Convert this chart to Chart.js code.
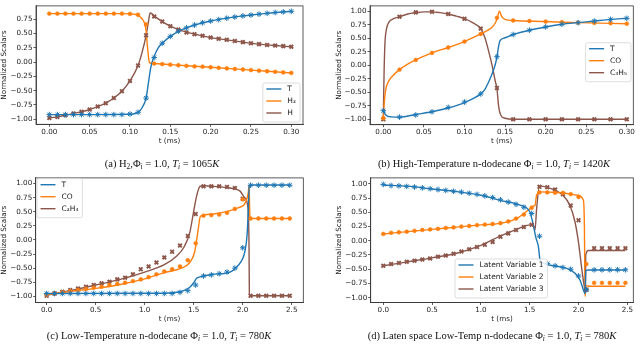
<!DOCTYPE html>
<html>
<head>
<meta charset="utf-8">
<script src="https://cdn.jsdelivr.net/npm/chart.js@4.4.0/dist/chart.umd.min.js"></script>
<style>
  html, body { margin: 0; padding: 0; background: #fff; }
  #wrap { position: relative; width: 640px; height: 347px; overflow: hidden; }
  canvas { position: absolute; }
  .cap { position: absolute; width: 320px; text-align: center; white-space: nowrap;
         font-family: "Liberation Serif", "Times New Roman", serif; font-size: 10.5px; line-height: 12px; color: #111; }
  .cap sub { font-size: 70%; line-height: 0; vertical-align: -0.3em; }
</style>
</head>
<body>
<div id="wrap">
  <canvas id="chartA" width="320" height="160" style="left:0;top:0"></canvas>
  <canvas id="chartB" width="320" height="160" style="left:320px;top:0"></canvas>
  <canvas id="chartC" width="320" height="160" style="left:0;top:172px"></canvas>
  <canvas id="chartD" width="320" height="160" style="left:320px;top:172px"></canvas>
  <div class="cap" style="left:2px;top:157.5px">(a) H<sub>2</sub>,Φ<sub><i>i</i></sub> = 1.0, <i>T<sub>i</sub></i> = 1065<i>K</i></div>
  <div class="cap" style="left:334px;top:157.5px">(b) High-Temperature n-dodecane Φ<sub><i>i</i></sub> = 1.0, <i>T<sub>i</sub></i> = 1420<i>K</i></div>
  <div class="cap" style="left:-1px;top:329.5px">(c) Low-Temperature n-dodecane Φ<sub><i>i</i></sub> = 1.0, <i>T<sub>i</sub></i> = 780<i>K</i></div>
  <div class="cap" style="left:332px;top:329.5px">(d) Laten space Low-Temp n-dodecane Φ<sub><i>i</i></sub> = 1.0, <i>T<sub>i</sub></i> = 780<i>K</i></div>
</div>

<script>
// ---------- tick labels ----------
const ticksA_x = [0.00, 0.05, 0.10, 0.15, 0.20, 0.25, 0.30];
const ticksA_y = [-1.00, -0.75, -0.50, -0.25, 0.00, 0.25, 0.50, 0.75];
const ticksB_x = [0.00, 0.05, 0.10, 0.15, 0.20, 0.25, 0.30];
const ticksB_y = [-1.00, -0.75, -0.50, -0.25, 0.00, 0.25, 0.50, 0.75, 1.00];
const ticksCD_x = [0.0, 0.5, 1.0, 1.5, 2.0, 2.5];
const ticksCD_y = [-1.00, -0.75, -0.50, -0.25, 0.00, 0.25, 0.50, 0.75, 1.00];

// ---------- (a) H2, 1065K ----------
const aLineT_t  = [0, 0.05, 0.10, 0.105, 0.11, 0.115, 0.12, 0.123, 0.126, 0.13, 0.135, 0.14, 0.15, 0.16, 0.17, 0.18, 0.20, 0.22, 0.24, 0.26, 0.28, 0.30];
const aLineT_v  = [-0.92, -0.92, -0.915, -0.905, -0.88, -0.80, -0.63, -0.35, -0.08, 0.10, 0.25, 0.33, 0.45, 0.54, 0.60, 0.65, 0.72, 0.77, 0.81, 0.84, 0.87, 0.89];
const aLineH2_t = [0, 0.09, 0.10, 0.105, 0.11, 0.115, 0.118, 0.12, 0.122, 0.124, 0.126, 0.13, 0.15, 0.20, 0.25, 0.30];
const aLineH2_v = [0.85, 0.85, 0.845, 0.84, 0.82, 0.76, 0.68, 0.55, 0.22, 0.0, -0.02, -0.025, -0.045, -0.09, -0.14, -0.19];
const aLineH_t  = [0, 0.01, 0.02, 0.03, 0.04, 0.05, 0.06, 0.07, 0.08, 0.09, 0.10, 0.11, 0.115, 0.12, 0.123, 0.125, 0.127, 0.13, 0.14, 0.15, 0.16, 0.18, 0.20, 0.22, 0.24, 0.26, 0.28, 0.30];
const aLineH_v  = [-0.98, -0.96, -0.93, -0.90, -0.87, -0.83, -0.78, -0.72, -0.63, -0.51, -0.33, -0.06, 0.17, 0.47, 0.72, 0.86, 0.85, 0.81, 0.71, 0.63, 0.57, 0.49, 0.43, 0.39, 0.35, 0.315, 0.29, 0.27];

const aMark_t  = [0.00, 0.01, 0.02, 0.03, 0.04, 0.05, 0.06, 0.07, 0.08, 0.09, 0.10, 0.11, 0.12, 0.13, 0.14, 0.15,
                  0.16, 0.17, 0.18, 0.19, 0.20, 0.21, 0.22, 0.23, 0.24, 0.25, 0.26, 0.27, 0.28, 0.29, 0.30];
const aMarkT   = [-0.92, -0.92, -0.92, -0.92, -0.92, -0.92, -0.92, -0.92, -0.92, -0.92, -0.91, -0.88, -0.63, 0.08, 0.33, 0.45,
                  0.54, 0.60, 0.65, 0.69, 0.72, 0.745, 0.77, 0.79, 0.81, 0.825, 0.84, 0.855, 0.87, 0.88, 0.89];
const aMarkH2  = [0.85, 0.85, 0.85, 0.85, 0.85, 0.85, 0.85, 0.85, 0.85, 0.85, 0.845, 0.83, 0.66, -0.025, -0.035, -0.045,
                  -0.055, -0.065, -0.075, -0.08, -0.09, -0.10, -0.11, -0.12, -0.13, -0.14, -0.15, -0.16, -0.17, -0.18, -0.19];
const aMarkH   = [-0.98, -0.96, -0.93, -0.90, -0.87, -0.83, -0.78, -0.72, -0.63, -0.51, -0.33, -0.06, 0.47, 0.80, 0.71, 0.63,
                  0.57, 0.52, 0.49, 0.46, 0.43, 0.41, 0.39, 0.37, 0.35, 0.33, 0.315, 0.30, 0.29, 0.28, 0.27];

// ---------- (b) high-temperature n-dodecane ----------
const bLineT_t  = [0, 0.002, 0.005, 0.01, 0.02, 0.04, 0.06, 0.08, 0.10, 0.12, 0.125, 0.13, 0.135, 0.138, 0.14, 0.142, 0.144, 0.15, 0.16, 0.18, 0.20, 0.22, 0.24, 0.26, 0.28, 0.30];
const bLineT_v  = [-0.82, -0.90, -0.94, -0.955, -0.96, -0.91, -0.86, -0.79, -0.69, -0.53, -0.45, -0.30, -0.12, 0.02, 0.15, 0.35, 0.46, 0.51, 0.57, 0.65, 0.71, 0.76, 0.79, 0.82, 0.85, 0.87];
const bLineCO_t = [0, 0.001, 0.003, 0.006, 0.01, 0.02, 0.03, 0.04, 0.06, 0.08, 0.10, 0.12, 0.13, 0.135, 0.14, 0.143, 0.146, 0.15, 0.16, 0.20, 0.24, 0.30];
const bLineCO_v = [-0.98, -0.72, -0.45, -0.31, -0.22, -0.08, 0.02, 0.10, 0.23, 0.33, 0.44, 0.58, 0.66, 0.72, 0.85, 1.0, 0.90, 0.85, 0.83, 0.81, 0.79, 0.77];
const bLineC3_t = [0, 0.0005, 0.001, 0.002, 0.004, 0.007, 0.012, 0.02, 0.03, 0.04, 0.05, 0.06, 0.07, 0.08, 0.09, 0.10, 0.11, 0.12, 0.125, 0.13, 0.134, 0.138, 0.14, 0.142, 0.145, 0.15, 0.16, 0.30];
const bLineC3_v = [-1.0, -0.5, -0.1, 0.4, 0.68, 0.80, 0.86, 0.90, 0.95, 0.975, 0.99, 0.99, 0.975, 0.95, 0.91, 0.865, 0.79, 0.68, 0.52, 0.25, 0.0, -0.3, -0.43, -0.75, -0.93, -0.98, -1.0, -1.0];

const bMark_t  = [0.00, 0.02, 0.04, 0.06, 0.08, 0.10, 0.12, 0.14, 0.16, 0.18, 0.20, 0.22, 0.24, 0.26, 0.28, 0.30];
const bMarkT   = [-0.84, -0.96, -0.92, -0.86, -0.78, -0.68, -0.53, 0.16, 0.57, 0.65, 0.71, 0.76, 0.79, 0.82, 0.85, 0.87];
const bMarkCO  = [-0.98, -0.08, 0.10, 0.23, 0.33, 0.44, 0.58, 0.88, 0.83, 0.82, 0.81, 0.80, 0.79, 0.785, 0.78, 0.77];
const bMarkC3  = [-1.0, 0.90, 0.98, 0.99, 0.95, 0.86, 0.68, -0.42, -1.0, -1.0, -1.0, -1.0, -1.0, -1.0, -1.0, -1.0];

// ---------- (c) low-temperature n-dodecane ----------
const cLineT_t  = [0, 1.2, 1.36, 1.41, 1.46, 1.50, 1.53, 1.564, 1.60, 1.70, 1.87, 1.955, 2.0, 2.024, 2.045, 2.057, 2.067, 2.08, 2.48];
const cLineT_v  = [-0.95, -0.945, -0.92, -0.89, -0.84, -0.76, -0.68, -0.655, -0.64, -0.61, -0.57, -0.45, -0.33, -0.19, 0.10, 0.55, 0.97, 0.975, 0.975];
const cLineCO_t = [0, 0.25, 0.5, 0.75, 1.0, 1.2, 1.36, 1.46, 1.51, 1.547, 1.564, 1.58, 1.70, 1.87, 1.97, 2.02, 2.057, 2.064, 2.074, 2.09, 2.48];
const cLineCO_v = [-0.97, -0.91, -0.86, -0.79, -0.69, -0.58, -0.51, -0.40, -0.21, 0.20, 0.40, 0.43, 0.46, 0.52, 0.58, 0.64, 0.84, 0.96, 0.40, 0.38, 0.38];
const cLineC2_t = [0, 0.25, 0.5, 0.75, 1.0, 1.2, 1.33, 1.4, 1.46, 1.497, 1.53, 1.564, 1.60, 1.70, 1.87, 1.97, 2.02, 2.05, 2.064, 2.068, 2.08, 2.48];
const cLineC2_v = [-0.98, -0.895, -0.80, -0.70, -0.57, -0.44, -0.28, -0.13, 0.13, 0.48, 0.78, 0.95, 0.96, 0.95, 0.92, 0.87, 0.75, 0.61, -0.04, -0.97, -0.99, -0.99];

const cdMark_t = [0.00, 0.08, 0.16, 0.24, 0.32, 0.40, 0.48, 0.56, 0.64, 0.72, 0.80, 0.88, 0.96, 1.04, 1.12, 1.20,
                  1.28, 1.36, 1.44, 1.52, 1.60, 1.68, 1.76, 1.84, 1.92, 2.00, 2.08, 2.16, 2.24, 2.32, 2.40, 2.48];
const cMarkT   = [-0.95, -0.95, -0.95, -0.95, -0.95, -0.95, -0.95, -0.95, -0.95, -0.95, -0.95, -0.95, -0.95, -0.95, -0.95, -0.95,
                  -0.95, -0.93, -0.90, -0.80, -0.64, -0.62, -0.60, -0.57, -0.50, -0.14, 0.97, 0.97, 0.97, 0.97, 0.97, 0.97];
const cMarkCO  = [-0.97, -0.95, -0.93, -0.91, -0.89, -0.87, -0.85, -0.83, -0.80, -0.78, -0.76, -0.73, -0.70, -0.66, -0.61, -0.56,
                  -0.52, -0.47, -0.36, -0.06, 0.43, 0.44, 0.45, 0.48, 0.55, 0.72, 0.38, 0.38, 0.38, 0.38, 0.38, 0.38];
const cMarkC2  = [-0.99, -0.95, -0.92, -0.89, -0.86, -0.83, -0.80, -0.77, -0.74, -0.70, -0.67, -0.61, -0.52, -0.47, -0.40, -0.31,
                  -0.21, -0.10, 0.07, 0.46, 0.95, 0.95, 0.95, 0.94, 0.92, 0.73, -0.99, -0.99, -0.99, -0.99, -0.99, -0.99];

// ---------- (d) latent space ----------
const dLine1_t = [0, 0.25, 0.5, 0.75, 1.0, 1.2, 1.4, 1.5, 1.537, 1.561, 1.589, 1.606, 1.65, 1.71, 1.88, 1.964, 2.015, 2.05, 2.067, 2.075, 2.1, 2.48];
const dLine1_v = [0.98, 0.96, 0.91, 0.865, 0.80, 0.71, 0.626, 0.51, 0.275, 0.07, -0.105, -0.34, -0.40, -0.43, -0.485, -0.57, -0.69, -0.865, -0.93, -0.52, -0.515, -0.515];
const dLine2_t = [0, 0.25, 0.5, 0.75, 1.0, 1.196, 1.366, 1.486, 1.537, 1.554, 1.57, 1.606, 1.70, 1.85, 1.99, 2.05, 2.06, 2.067, 2.075, 2.1, 2.48];
const dLine2_v = [0.12, 0.16, 0.20, 0.24, 0.28, 0.305, 0.39, 0.54, 0.61, 0.62, 0.80, 0.86, 0.855, 0.84, 0.80, 0.71, 0.27, -0.98, -0.78, -0.80, -0.80];
const dLine3_t = [0, 0.25, 0.5, 0.75, 1.0, 1.196, 1.366, 1.503, 1.537, 1.554, 1.571, 1.60, 1.71, 1.84, 1.91, 1.964, 1.999, 2.033, 2.057, 2.07, 2.074, 2.1, 2.48];
const dLine3_v = [-0.44, -0.37, -0.30, -0.22, -0.08, 0.08, 0.20, 0.28, 0.27, 0.19, 0.57, 0.965, 0.92, 0.80, 0.63, 0.33, -0.02, -0.49, -0.78, -0.89, -0.25, -0.17, -0.17];

const dMark1 = [0.99, 0.97, 0.965, 0.955, 0.945, 0.93, 0.915, 0.90, 0.885, 0.87, 0.855, 0.835, 0.815, 0.79, 0.76, 0.72,
                0.68, 0.64, 0.59, 0.48, 0.08, -0.40, -0.44, -0.47, -0.50, -0.62, -0.86, -0.51, -0.51, -0.51, -0.51, -0.51];
const dMark2 = [0.12, 0.14, 0.15, 0.16, 0.175, 0.19, 0.20, 0.21, 0.225, 0.235, 0.25, 0.26, 0.275, 0.285, 0.295, 0.31,
                0.34, 0.39, 0.46, 0.58, 0.85, 0.85, 0.845, 0.84, 0.82, 0.77, -0.41, -0.74, -0.74, -0.74, -0.74, -0.74];
const dMark3 = [-0.44, -0.41, -0.39, -0.37, -0.35, -0.33, -0.31, -0.28, -0.26, -0.23, -0.19, -0.15, -0.11, -0.07, -0.02, 0.07,
                0.13, 0.19, 0.24, 0.28, 0.95, 0.94, 0.90, 0.82, 0.62, 0.36, -0.86, -0.13, -0.13, -0.13, -0.13, -0.13];

// ---------- styling ----------
const BLUE = '#1f77b4', ORANGE = '#ff7f0e', BROWN = '#8c564b';
const INK = '#222';

Chart.defaults.font.family = "'DejaVu Sans', sans-serif";
Chart.defaults.font.size = 7.2;
Chart.defaults.color = INK;

const markStyle = {
  [BLUE]:   { pointStyle: 'star',     pointRadius: 2.8, pointBorderWidth: 1 },
  [ORANGE]: { pointStyle: 'circle',   pointRadius: 1.9, pointBorderWidth: 0.6 },
  [BROWN]:  { pointStyle: 'crossRot', pointRadius: 2.6, pointBorderWidth: 1.9 }
};

function pts(t, v) {
  return t.map((x, i) => ({ x: x, y: v[i] }));
}

function lineSet(label, t, v, color) {
  return {
    label: label, data: pts(t, v),
    borderColor: color, backgroundColor: color, borderWidth: 1.4,
    pointRadius: 0, cubicInterpolationMode: 'monotone', order: 1
  };
}

function markSet(t, v, color) {
  return Object.assign({
    data: pts(t, v), showLine: false,
    borderColor: color, backgroundColor: color, order: 0
  }, markStyle[color]);
}

function fmt(v, dec) {
  const s = Math.abs(v).toFixed(dec);
  return v < -1e-9 ? '\u2212' + s : s;
}

function axis(min, max, ticks, dec, title, dir, size) {
  return {
    type: 'linear', min: min, max: max,
    afterBuildTicks: s => { s.ticks = ticks.map(v => ({ value: v })); },
    afterFit: s => { if (dir === 'x') s.height = size; else s.width = size; },
    grid: { drawOnChartArea: false, drawTicks: true, tickLength: 2.5, color: '#333', tickWidth: 0.8 },
    border: { display: true, color: '#333', width: 0.8 },
    ticks: { autoSkip: false, maxRotation: 0, padding: 1, color: INK, callback: v => fmt(v, dec) },
    title: { display: true, text: title, color: INK, padding: dir === 'x' ? { top: 0, bottom: 2 } : { top: 0, bottom: 0 } }
  };
}

// frame round the plot + legend box inside it
const framePlugin = {
  id: 'legendBox',
  afterDraw(chart, args, opts) {
    const ctx = chart.ctx;
    const a = chart.chartArea;
    ctx.save();
    ctx.strokeStyle = '#333';
    ctx.lineWidth = 0.8;
    ctx.strokeRect(a.left, a.top, a.right - a.left, a.bottom - a.top);

    const items = chart.data.datasets.filter(d => d.label);
    ctx.font = "7.5px 'DejaVu Sans'";
    const textW = Math.max(...items.map(d => ctx.measureText(d.label).width));
    const w = 3.5 + 15 + 6 + textW + 4;
    const h = items.length * 12 + 3;
    const left = opts.align === 'right' ? opts.x - w : opts.x;
    const top = opts.y;

    ctx.fillStyle = 'rgba(255,255,255,0.85)';
    ctx.strokeStyle = '#d4d4d4';
    ctx.lineWidth = 0.8;
    ctx.beginPath();
    ctx.roundRect(left, top, w, h, 2);
    ctx.fill();
    ctx.stroke();

    ctx.textBaseline = 'middle';
    ctx.textAlign = 'left';
    items.forEach((d, i) => {
      const y = top + 6 + i * 12;
      ctx.strokeStyle = d.borderColor;
      ctx.lineWidth = 1.4;
      ctx.beginPath();
      ctx.moveTo(left + 3.5, y);
      ctx.lineTo(left + 18.5, y);
      ctx.stroke();
      ctx.fillStyle = INK;
      ctx.fillText(d.label, left + 24.5, y + 0.5);
    });
    ctx.restore();
  }
};

function drawPanel(id, p) {
  new Chart(document.getElementById(id), {
    type: 'line',
    data: { datasets: p.datasets },
    options: {
      responsive: false,
      animation: false,
      events: [],
      layout: { padding: p.pad },
      plugins: { legend: { display: false }, tooltip: { enabled: false }, legendBox: p.legend },
      scales: {
        x: axis(p.x[0], p.x[1], p.xTicks, p.xDec, 't (ms)', 'x', 23),
        y: axis(p.y[0], p.y[1], p.yTicks, 2, 'Normalized Scalars', 'y', p.yW)
      }
    },
    plugins: [framePlugin]
  });
}

drawPanel('chartA', {
  datasets: [
    lineSet('T', aLineT_t, aLineT_v, BLUE),
    lineSet('H\u2082', aLineH2_t, aLineH2_v, ORANGE),
    lineSet('H', aLineH_t, aLineH_v, BROWN),
    markSet(aMark_t, aMarkT, BLUE),
    markSet(aMark_t, aMarkH2, ORANGE),
    markSet(aMark_t, aMarkH, BROWN)
  ],
  x: [-0.0165, 0.3145], y: [-1.09, 0.985],
  xTicks: ticksA_x, yTicks: ticksA_y, xDec: 2, yW: 36,
  pad: { left: 0, right: 17, top: 1, bottom: 12.7 },
  legend: { x: 300, y: 83, align: 'right' }
});

drawPanel('chartB', {
  datasets: [
    lineSet('T', bLineT_t, bLineT_v, BLUE),
    lineSet('CO', bLineCO_t, bLineCO_v, ORANGE),
    lineSet('C\u2083H\u2085', bLineC3_t, bLineC3_v, BROWN),
    markSet(bMark_t, bMarkT, BLUE),
    markSet(bMark_t, bMarkCO, ORANGE),
    markSet(bMark_t, bMarkC3, BROWN)
  ],
  x: [-0.0164, 0.308], y: [-1.1, 1.1],
  xTicks: ticksB_x, yTicks: ticksB_y, xDec: 2, yW: 35.3,
  pad: { left: 14.7, right: 6.7, top: 0.5, bottom: 12.3 },
  legend: { x: 311, y: 42.7, align: 'right' }
});

drawPanel('chartC', {
  datasets: [
    lineSet('T', cLineT_t, cLineT_v, BLUE),
    lineSet('CO', cLineCO_t, cLineCO_v, ORANGE),
    lineSet('C\u2082H\u2084', cLineC2_t, cLineC2_v, BROWN),
    markSet(cdMark_t, cMarkT, BLUE),
    markSet(cdMark_t, cMarkCO, ORANGE),
    markSet(cdMark_t, cMarkC2, BROWN)
  ],
  x: [-0.112, 2.618], y: [-1.11, 1.10],
  xTicks: ticksCD_x, yTicks: ticksCD_y, xDec: 1, yW: 35.7,
  pad: { left: 0, right: 16.7, top: 5, bottom: 6.5 },
  legend: { x: 37, y: 6.7, align: 'left' }
});

drawPanel('chartD', {
  datasets: [
    lineSet('Latent Variable 1', dLine1_t, dLine1_v, BLUE),
    lineSet('Latent Variable 2', dLine2_t, dLine2_v, ORANGE),
    lineSet('Latent Variable 3', dLine3_t, dLine3_v, BROWN),
    markSet(cdMark_t, dMark1, BLUE),
    markSet(cdMark_t, dMark2, ORANGE),
    markSet(cdMark_t, dMark3, BROWN)
  ],
  x: [-0.129, 2.561], y: [-1.085, 1.105],
  xTicks: ticksCD_x, yTicks: ticksCD_y, xDec: 1, yW: 36,
  pad: { left: 14.7, right: 6.7, top: 5.7, bottom: 6.5 },
  legend: { x: 135, y: 87, align: 'left' }
});
</script>
</body>
</html>
